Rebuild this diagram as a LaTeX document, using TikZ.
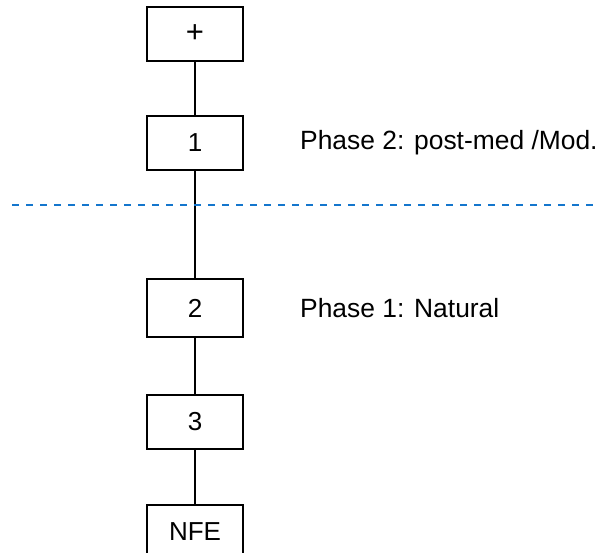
\documentclass[tikz,border=0pt]{standalone}
\usepackage{fontspec}
\setmainfont{Liberation Sans}
\definecolor{dashblue}{RGB}{20,118,205}
\begin{document}
\begin{tikzpicture}[x=1pt,y=-1pt,
  box/.style={draw=black,line width=1.5pt,minimum width=96pt,minimum height=54pt,inner sep=0pt,font=\fontsize{26}{30}\selectfont},
  link/.style={draw=black,line width=1.5pt},
  phase/.style={anchor=west,inner sep=0pt,font=\fontsize{26.4}{30}\selectfont},
  sep/.style={draw=dashblue,line width=2pt,dash pattern=on 7pt off 7pt}]
\useasboundingbox (0,0) rectangle (599,553);
\begin{scope}
\clip (0,0) rectangle (599,553);
\node[box,font=\fontsize{31}{34}\selectfont] (plus) at (195,34) {+};
\node[box] (n1) at (195,143) {1};
\node[box,minimum height=58pt] (n2) at (195,308) {2};
\node[box] (n3) at (195,422) {3};
\node[box] (nfe) at (195,532) {NFE};
\draw[link] (plus) -- (n1);
\draw[link] (n1) -- (n2);
\draw[link] (n2) -- (n3);
\draw[link] (n3) -- (nfe);
\coordinate (dl) at (12,205);
\coordinate (dr) at (596,205);
\draw[sep] (dl) -- (dr);
\node[phase] (p2) at (300,143) {Phase 2: post-med /Mod.};
\node[phase] (p1) at (300,308) {Phase 1: Natural};
\end{scope}
\end{tikzpicture}
\end{document}
